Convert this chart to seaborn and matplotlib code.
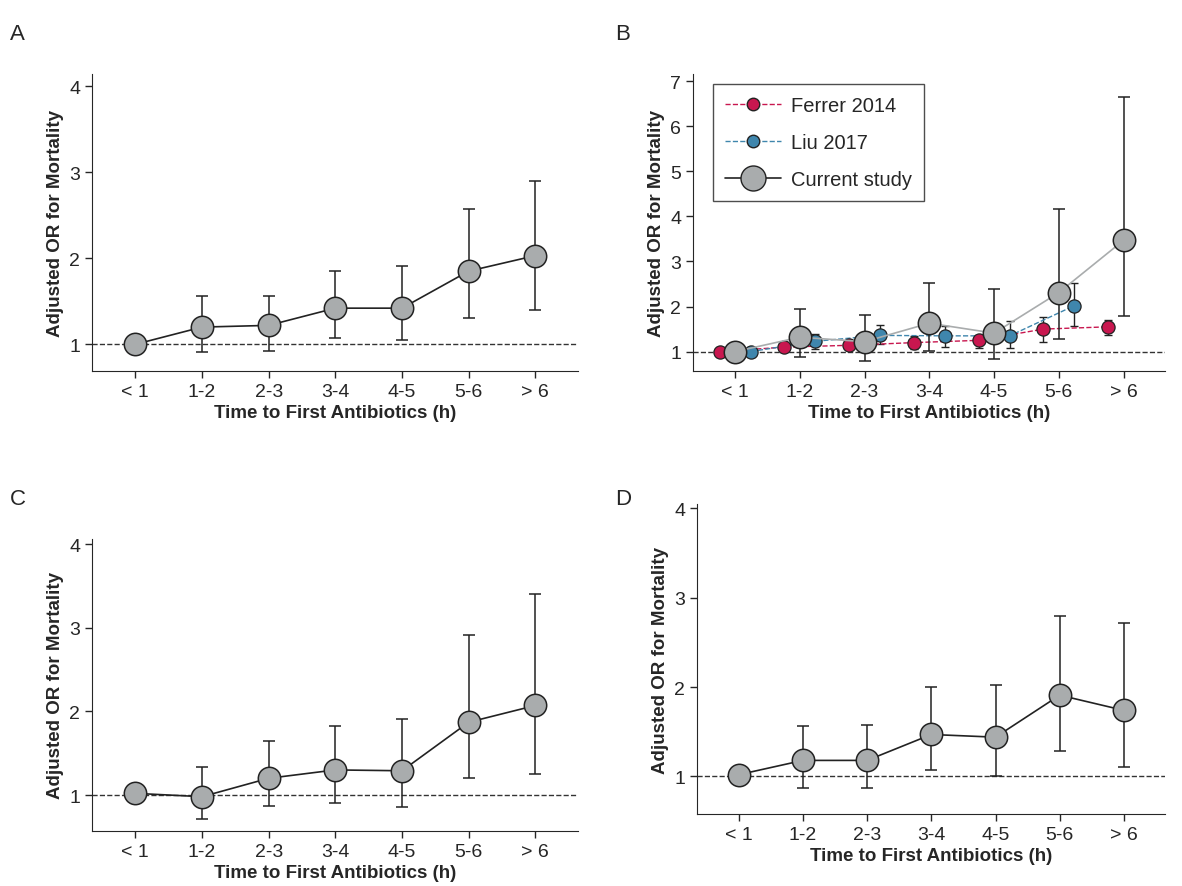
import matplotlib
matplotlib.use("Agg")
import matplotlib.pyplot as plt
import seaborn as sns
import numpy as np
from matplotlib.lines import Line2D

sns.set_style("ticks")
plt.rcParams['font.family'] = ['Liberation Sans', 'DejaVu Sans']

cats = ["< 1", "1-2", "2-3", "3-4", "4-5", "5-6", "> 6"]

a_or = [1.0, 1.2, 1.22, 1.42, 1.42, 1.85, 2.03]
a_lo = [1.0, 0.91, 0.92, 1.07, 1.05, 1.31, 1.40]
a_hi = [1.0, 1.56, 1.56, 1.85, 1.91, 2.57, 2.90]

b_or = [1.0, 1.32, 1.22, 1.63, 1.41, 2.31, 3.47]
b_lo = [1.0, 0.88, 0.79, 1.02, 0.83, 1.27, 1.79]
b_hi = [1.0, 1.95, 1.82, 2.53, 2.38, 4.17, 6.66]

ferrer_or = [1.0, 1.10, 1.14, 1.20, 1.25, 1.50, 1.55]
ferrer_lo = [1.0, 1.05, 1.08, 1.05, 1.08, 1.22, 1.37]
ferrer_hi = [1.0, 1.15, 1.20, 1.35, 1.35, 1.76, 1.71]

liu_or = [1.0, 1.23, 1.36, 1.35, 1.35, 2.02]
liu_lo = [1.0, 1.05, 1.17, 1.10, 1.08, 1.57]
liu_hi = [1.0, 1.40, 1.58, 1.56, 1.67, 2.53]

c_or = [1.02, 0.98, 1.20, 1.30, 1.29, 1.87, 2.07]
c_lo = [1.02, 0.71, 0.87, 0.90, 0.86, 1.20, 1.25]
c_hi = [1.02, 1.34, 1.65, 1.83, 1.91, 2.91, 3.40]

d_or = [1.02, 1.18, 1.18, 1.47, 1.44, 1.91, 1.74]
d_lo = [1.02, 0.87, 0.87, 1.07, 1.00, 1.28, 1.11]
d_hi = [1.02, 1.57, 1.58, 2.00, 2.02, 2.80, 2.72]

GREY = "#a9acad"
RED = "#c8174f"
BLUE = "#3f86ad"

fig = plt.figure(figsize=(11.82, 8.87), dpi=100)
W, H = 1182, 887
def mkax(l, t, r, b):
    return fig.add_axes([l / W, 1 - b / H, (r - l) / W, (b - t) / H])

axA = mkax(92, 75, 578, 372)
axB = mkax(693, 75, 1165, 372)
axC = mkax(92, 540, 578, 832)
axD = mkax(697, 505, 1165, 815)

def errs(o, lo, hi):
    o, lo, hi = map(np.array, (o, lo, hi))
    return [o - lo, hi - o]

def current(ax, o, lo, hi, lc="#222222", x=None):
    x = np.arange(len(o)) if x is None else x
    ax.errorbar(x, o, yerr=errs(o, lo, hi), fmt="none", ecolor="#222222", elinewidth=1.1, capsize=4, capthick=1.1, zorder=2)
    sns.lineplot(x=x, y=o, ax=ax, color=lc, lw=1.2, zorder=3)
    sns.scatterplot(x=x, y=o, ax=ax, s=260, color=GREY, edgecolor="#222222", linewidth=1.1, zorder=4)

def style(ax, ylim, yticks):
    ax.axhline(1, color="#333333", ls="--", lw=1.0, zorder=1)
    ax.set_xlim(-0.65, 6.64)
    ax.set_ylim(*ylim)
    ax.set_yticks(yticks)
    ax.set_xticks(range(7))
    ax.set_xticklabels(cats)
    ax.tick_params(labelsize=14, length=5, width=1)
    for s in ["top", "right"]:
        ax.spines[s].set_visible(False)
    ax.set_xlabel("Time to First Antibiotics (h)", fontsize=13.5, fontweight="bold", labelpad=3)
    ax.set_ylabel("Adjusted OR for Mortality", fontsize=13.5, fontweight="bold")

current(axA, a_or, a_lo, a_hi)
style(axA, (0.69, 4.14), [1, 2, 3, 4])
current(axC, c_or, c_lo, c_hi)
style(axC, (0.57, 4.06), [1, 2, 3, 4])
current(axD, d_or, d_lo, d_hi)
style(axD, (0.58, 4.05), [1, 2, 3, 4])

# Panel B
xf = np.arange(7) - 0.24
xl = np.arange(6) + 0.24
axB.errorbar(xf, ferrer_or, yerr=errs(ferrer_or, ferrer_lo, ferrer_hi), fmt="none", ecolor="#222222", elinewidth=1, capsize=3, zorder=2)
axB.errorbar(xl, liu_or, yerr=errs(liu_or, liu_lo, liu_hi), fmt="none", ecolor="#222222", elinewidth=1, capsize=3, zorder=2)
sns.lineplot(x=xf, y=ferrer_or, ax=axB, color=RED, lw=1, ls="--", zorder=2)
sns.lineplot(x=xl, y=liu_or, ax=axB, color=BLUE, lw=1, ls="--", zorder=2)
sns.scatterplot(x=xf, y=ferrer_or, ax=axB, s=90, color=RED, edgecolor="#222222", linewidth=0.9, zorder=3)
sns.scatterplot(x=xl, y=liu_or, ax=axB, s=90, color=BLUE, edgecolor="#222222", linewidth=0.9, zorder=3)
current(axB, b_or, b_lo, b_hi, lc=GREY)
style(axB, (0.57, 7.16), [1, 2, 3, 4, 5, 6, 7])

handles = [
    Line2D([], [], color=RED, ls="--", lw=1, marker="o", ms=9, mfc=RED, mec="#222222"),
    Line2D([], [], color=BLUE, ls="--", lw=1, marker="o", ms=9, mfc=BLUE, mec="#222222"),
    Line2D([], [], color="#222222", lw=1.2, marker="o", ms=18, mfc=GREY, mec="#222222"),
]
leg = axB.legend(handles, ["Ferrer 2014", "Liu 2017", "Current study"], loc="upper left",
                 bbox_to_anchor=(0.02, 1.0), fontsize=14.5, frameon=True, fancybox=False,
                 edgecolor="#222222", borderpad=0.6, labelspacing=0.9, handlelength=2.8,
                 handletextpad=0.5)
leg.get_frame().set_linewidth(1.0)

for lab, x, y in [("A", 10, 35), ("B", 615, 35), ("C", 10, 500), ("D", 615, 500)]:
    fig.text(x / W, 1 - y / H, lab, fontsize=16, va="center")

fig.savefig("out.png", dpi=100)
